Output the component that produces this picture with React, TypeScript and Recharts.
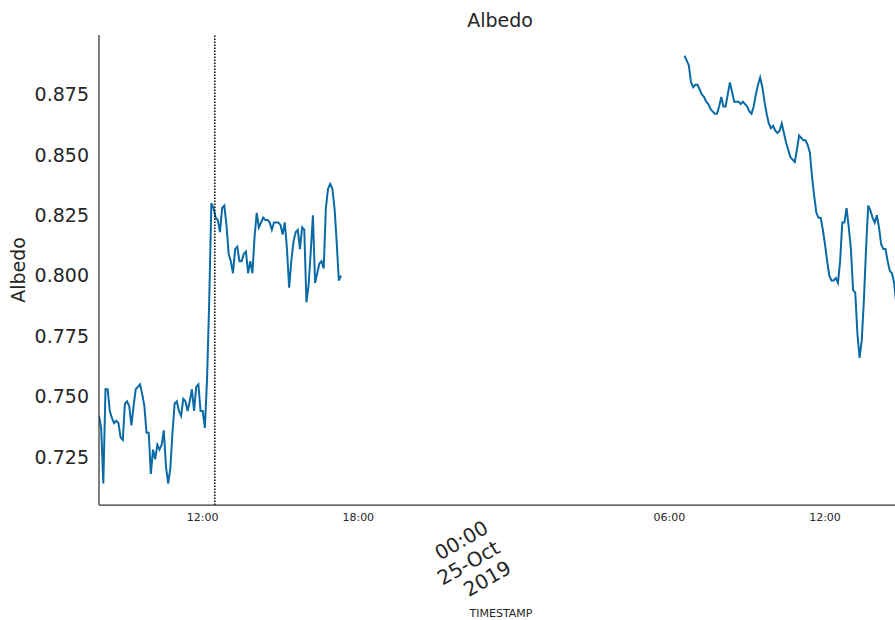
import React from 'react';
import { LineChart, Line, XAxis, YAxis, ReferenceLine } from 'recharts';

// 24-Oct-2019, 5 minute readings
const day1Times = [
  '08:00', '08:05', '08:10', '08:15', '08:20', '08:25', '08:30', '08:35', '08:40', '08:45', '08:50', '08:55',
  '09:00', '09:05', '09:10', '09:15', '09:20', '09:25', '09:30', '09:35', '09:40', '09:45', '09:50', '09:55',
  '10:00', '10:05', '10:10', '10:15', '10:20', '10:25', '10:30', '10:35', '10:40', '10:45', '10:50', '10:55',
  '11:00', '11:05', '11:10', '11:15', '11:20', '11:25', '11:30', '11:35', '11:40', '11:45', '11:50', '11:55',
  '12:00', '12:05', '12:10', '12:15', '12:20', '12:25', '12:30', '12:35', '12:40', '12:45', '12:50', '12:55',
  '13:00', '13:05', '13:10', '13:15', '13:20', '13:25', '13:30', '13:35', '13:40', '13:45', '13:50', '13:55',
  '14:00', '14:05', '14:10', '14:15', '14:20', '14:25', '14:30', '14:35', '14:40', '14:45', '14:50', '14:55',
  '15:00', '15:05', '15:10', '15:15', '15:20', '15:25', '15:30', '15:35', '15:40', '15:45', '15:50', '15:55',
  '16:00', '16:05', '16:10', '16:15', '16:20', '16:25', '16:30', '16:35', '16:40', '16:45', '16:50', '16:55',
  '17:00', '17:05', '17:10', '17:15', '17:20',
];
const day1Albedo = [
  0.742, 0.737, 0.714, 0.753, 0.753, 0.744, 0.741, 0.739, 0.740, 0.739, 0.733, 0.732,
  0.747, 0.748, 0.746, 0.738, 0.746, 0.753, 0.754, 0.755, 0.751, 0.746, 0.735, 0.735,
  0.718, 0.728, 0.724, 0.730, 0.728, 0.730, 0.736, 0.721, 0.714, 0.720, 0.735, 0.747,
  0.748, 0.744, 0.742, 0.749, 0.748, 0.744, 0.748, 0.753, 0.744, 0.754, 0.755, 0.744,
  0.744, 0.737, 0.757, 0.789, 0.830, 0.828, 0.824, 0.823, 0.818, 0.828, 0.829, 0.821,
  0.809, 0.806, 0.801, 0.811, 0.812, 0.806, 0.806, 0.809, 0.810, 0.801, 0.806, 0.801,
  0.816, 0.826, 0.820, 0.822, 0.824, 0.823, 0.823, 0.822, 0.819, 0.822, 0.822, 0.822,
  0.821, 0.817, 0.822, 0.811, 0.795, 0.806, 0.814, 0.818, 0.819, 0.811, 0.820, 0.819,
  0.789, 0.796, 0.810, 0.825, 0.797, 0.801, 0.805, 0.806, 0.803, 0.828, 0.836, 0.838,
  0.836, 0.828, 0.814, 0.798, 0.800,
];

// 25-Oct-2019
const day2Times = [
  '06:35', '06:40', '06:45', '06:50', '06:55',
  '07:00', '07:05', '07:10', '07:15', '07:20', '07:25', '07:30', '07:35', '07:40', '07:45', '07:50', '07:55',
  '08:00', '08:05', '08:10', '08:15', '08:20', '08:25', '08:30', '08:35', '08:40', '08:45', '08:50', '08:55',
  '09:00', '09:05', '09:10', '09:15', '09:20', '09:25', '09:30', '09:35', '09:40', '09:45', '09:50', '09:55',
  '10:00', '10:05', '10:10', '10:15', '10:20', '10:25', '10:30', '10:35', '10:40', '10:45', '10:50', '10:55',
  '11:00', '11:05', '11:10', '11:15', '11:20', '11:25', '11:30', '11:35', '11:40', '11:45', '11:50', '11:55',
  '12:00', '12:05', '12:10', '12:15', '12:20', '12:25', '12:30', '12:35', '12:40', '12:45', '12:50', '12:55',
  '13:00', '13:05', '13:10', '13:15', '13:20', '13:25', '13:30', '13:35', '13:40', '13:45', '13:50', '13:55',
  '14:00', '14:05', '14:10', '14:15', '14:20', '14:25', '14:30', '14:35', '14:40', '14:45',
];
const day2Albedo = [
  0.891, 0.889, 0.887, 0.880, 0.878,
  0.879, 0.879, 0.877, 0.875, 0.874, 0.872, 0.871, 0.869, 0.868, 0.867, 0.867, 0.870,
  0.874, 0.870, 0.870, 0.875, 0.880, 0.876, 0.872, 0.872, 0.872, 0.871, 0.872, 0.871,
  0.870, 0.868, 0.867, 0.870, 0.875, 0.879, 0.882, 0.878, 0.872, 0.867, 0.863, 0.861,
  0.862, 0.860, 0.859, 0.860, 0.863, 0.859, 0.855, 0.852, 0.849, 0.848, 0.847, 0.852,
  0.858, 0.857, 0.856, 0.856, 0.854, 0.851, 0.841, 0.833, 0.826, 0.824, 0.824, 0.819,
  0.813, 0.806, 0.800, 0.798, 0.798, 0.799, 0.797, 0.806, 0.822, 0.822, 0.828, 0.820,
  0.811, 0.794, 0.793, 0.776, 0.766, 0.773, 0.790, 0.811, 0.829, 0.827, 0.824, 0.822,
  0.825, 0.820, 0.813, 0.811, 0.811, 0.806, 0.802, 0.801, 0.797, 0.788,
];

// hours since 24-Oct 00:00
const xTicks = [12, 18, 24, 30, 36];
const xTickLabels = ['12:00', '18:00', '00:00\n25-Oct\n2019', '06:00', '12:00'];
const yTicks = [0.725, 0.75, 0.775, 0.8, 0.825, 0.85, 0.875];
const markerTime = '12:28';

const FONT = 'DejaVu Sans';
const TEXT = '#262626';

const toHours = (hhmm: string, day: number) => {
  const [h, m] = hhmm.split(':').map(Number);
  return day * 24 + h + m / 60;
};

const chartData = [
  ...day1Times.map((t, i) => ({ t: toHours(t, 0), albedo: day1Albedo[i] })),
  { t: 24, albedo: null },
  ...day2Times.map((t, i) => ({ t: toHours(t, 1), albedo: day2Albedo[i] })),
];

const TimeTick = (props: any) => {
  const { x, y, payload } = props;
  const label = xTickLabels[xTicks.indexOf(payload.value)] ?? '';
  const lines = label.split('\n');
  if (lines.length > 1) {
    // day label, rotated like autofmt_xdate
    const ax = x - 24;
    const ay = y + 19;
    return (
      <text x={ax} y={ay} transform={`rotate(-30, ${ax}, ${ay})`} textAnchor="end" fontSize={20} fill={TEXT} fontFamily={FONT}>
        {lines.map((l, i) => (
          <tspan key={i} x={ax} dy={i === 0 ? 0 : 23}>{l}</tspan>
        ))}
      </text>
    );
  }
  return (
    <text x={x} y={y} dy="0.75em" textAnchor="middle" fontSize={11} fill={TEXT} fontFamily={FONT}>
      {label}
    </text>
  );
};

const App: React.FC = () => {
  return (
    <div style={{ position: 'absolute', left: 0, top: 0, width: 895, height: 620, background: '#fff', fontFamily: FONT }}>
      <div style={{ position: 'absolute', left: 400, top: 8, width: 200, textAlign: 'center', fontSize: 19, lineHeight: '24px', color: TEXT }}>
        Albedo
      </div>
      <LineChart width={895} height={620} data={chartData} margin={{ top: 35, right: 0, bottom: 0, left: 0 }}>
        <XAxis
          dataKey="t"
          type="number"
          domain={[8, 38.7]}
          allowDataOverflow
          ticks={xTicks}
          interval={0}
          height={115}
          tickSize={0}
          tickMargin={8}
          tickLine={false}
          tick={<TimeTick />}
          axisLine={{ stroke: '#333', strokeWidth: 1.25 }}
          label={{ value: 'TIMESTAMP', position: 'insideBottom', offset: 3, dx: 4, fontSize: 11, fill: TEXT, fontFamily: FONT }}
        />
        <YAxis
          type="number"
          domain={[0.7051, 0.8996]}
          allowDataOverflow
          ticks={yTicks}
          tickFormatter={(v: number) => v.toFixed(3)}
          width={99}
          tickSize={0}
          tickMargin={10}
          tickLine={false}
          tick={{ fontSize: 19, fill: TEXT, fontFamily: FONT }}
          axisLine={{ stroke: '#333', strokeWidth: 1.25 }}
          label={{ value: 'Albedo', angle: -90, position: 'insideLeft', offset: 18, fontSize: 19, fill: TEXT, fontFamily: FONT, style: { textAnchor: 'middle' } }}
        />
        <Line
          type="linear"
          dataKey="albedo"
          stroke="#0a6aa6"
          strokeWidth={2}
          dot={false}
          activeDot={false}
          connectNulls={false}
          isAnimationActive={false}
        />
        <ReferenceLine x={toHours(markerTime, 0)} stroke="#000" strokeWidth={1.5} strokeDasharray="1.5 1.5" />
      </LineChart>
    </div>
  );
};

export default App;
